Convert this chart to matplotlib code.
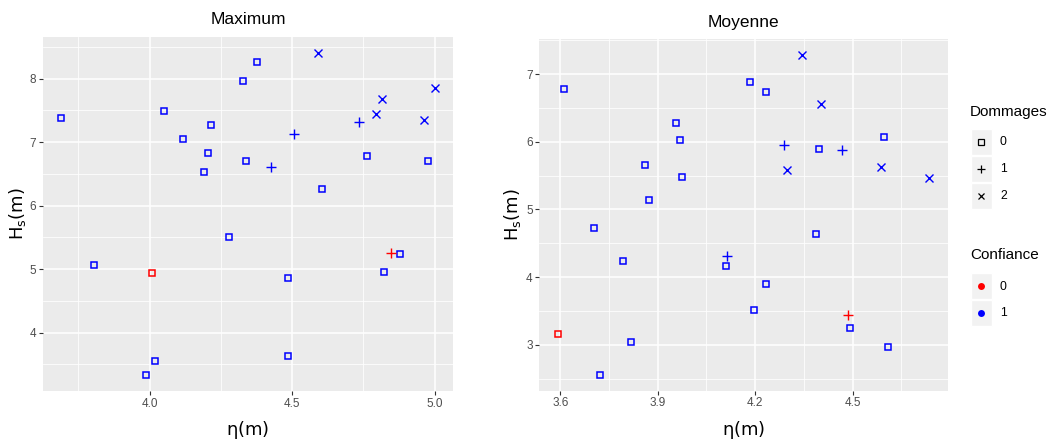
import matplotlib
matplotlib.use("Agg")
import matplotlib.pyplot as plt
from matplotlib.patches import Rectangle
import numpy as np

plt.rcParams['font.family'] = ['Liberation Sans', 'DejaVu Sans']
plt.rcParams['mathtext.fontset'] = 'dejavusans'

# ---- data: Maximum panel ----
max_eta = [3.690, 4.049, 4.118, 4.214, 4.204, 4.191, 4.327, 4.378, 4.337, 4.424,
           4.508, 4.590, 4.604, 4.734, 4.762, 4.794, 4.817, 4.961, 4.976, 5.000,
           4.277, 3.805, 4.007, 4.486, 4.824, 4.877, 4.847, 4.018, 3.988, 4.485]
max_hs = [7.385, 7.489, 7.043, 7.268, 6.826, 6.527, 7.953, 8.252, 6.700, 6.610,
          7.130, 8.400, 6.254, 7.320, 6.780, 7.437, 7.685, 7.347, 6.696, 7.858,
          5.502, 5.066, 4.934, 4.866, 4.956, 5.240, 5.250, 3.557, 3.336, 3.640]
max_dommages = [0, 0, 0, 0, 0, 0, 0, 0, 0, 1,
                1, 2, 0, 1, 0, 2, 2, 2, 0, 2,
                0, 0, 0, 0, 0, 0, 1, 0, 0, 0]
max_confiance = [1, 1, 1, 1, 1, 1, 1, 1, 1, 1,
                 1, 1, 1, 1, 1, 1, 1, 1, 1, 1,
                 1, 1, 0, 1, 1, 1, 0, 1, 1, 1]

# ---- data: Moyenne panel ----
moy_eta = [3.612, 4.185, 4.234, 4.345, 4.402, 3.955, 3.969, 4.290, 4.396, 4.469,
           4.596, 3.861, 4.299, 3.974, 4.587, 4.737, 3.874,
           3.704, 4.389, 4.112, 4.110, 3.792, 4.232, 4.197, 4.487, 4.493,
           3.592, 3.816, 4.609, 3.723]
moy_hs = [6.779, 6.882, 6.735, 7.284, 6.558, 6.278, 6.028, 5.959, 5.895, 5.885,
          6.066, 5.654, 5.580, 5.483, 5.635, 5.468, 5.144,
          4.722, 4.638, 4.314, 4.162, 4.240, 3.892, 3.514, 3.436, 3.253,
          3.160, 3.047, 2.973, 2.557]
moy_dommages = [0, 0, 0, 2, 2, 0, 0, 1, 0, 1,
                0, 0, 2, 0, 2, 2, 0,
                0, 0, 1, 0, 0, 0, 0, 1, 0,
                0, 0, 0, 0]
moy_confiance = [1, 1, 1, 1, 1, 1, 1, 1, 1, 1,
                 1, 1, 1, 1, 1, 1, 1,
                 1, 1, 1, 1, 1, 1, 1, 0, 1,
                 0, 1, 1, 1]

titles = ["Maximum", "Moyenne"]
max_xticks = [4.0, 4.5, 5.0]
max_yticks = [4, 5, 6, 7, 8]
moy_xticks = [3.6, 3.9, 4.2, 4.5]
moy_yticks = [3, 4, 5, 6, 7]
dommage_levels = ["0", "1", "2"]
confiance_levels = ["0", "1"]

shape_map = {0: 's', 1: '+', 2: 'x'}
size_map = {0: 5.0, 1: 7.0, 2: 5.5}
color_map = {0: '#FF0000', 1: '#0000FF'}

W, H = 1051, 445
fig = plt.figure(figsize=(W / 100, H / 100), dpi=100)

def px_axes(x0, y0, x1, y1):
    return fig.add_axes([x0 / W, 1 - y1 / H, (x1 - x0) / W, (y1 - y0) / H])

ax1 = px_axes(42.7, 37, 453.3, 391)
ax2 = px_axes(539.3, 39, 948, 390.7)

def expand(v):
    lo, hi = min(v), max(v)
    r = hi - lo
    return lo - 0.05 * r, hi + 0.05 * r

def panel(ax, eta, hs, dom, conf, title, xt, yt, ylab_x):
    ax.set_facecolor('#EBEBEB')
    for d, c, x, y in zip(dom, conf, eta, hs):
        m = shape_map[d]
        if m == 's':
            ax.plot(x, y, marker='s', ms=size_map[d], mfc='none', mec=color_map[c],
                    mew=1.1, ls='none', zorder=3)
        else:
            ax.plot(x, y, marker=m, ms=size_map[d], color=color_map[c],
                    mew=1.0, ls='none', zorder=3)
    ax.set_xticks(xt)
    ax.set_xticklabels([f"{v:.1f}" for v in xt])
    ax.set_yticks(yt)
    ax.set_yticklabels([str(v) for v in yt])
    xm = [(a + b) / 2 for a, b in zip(xt[:-1], xt[1:])]
    step = xt[1] - xt[0]
    xm = [xt[0] - step / 2] + xm + [xt[-1] + step / 2]
    ym = [(a + b) / 2 for a, b in zip(yt[:-1], yt[1:])]
    ym = [yt[0] - 0.5] + ym + [yt[-1] + 0.5]
    ax.set_xticks(xm, minor=True)
    ax.set_yticks(ym, minor=True)
    ax.set_xlim(*expand(eta))
    ax.set_ylim(*expand(hs))
    ax.grid(which='major', color='white', lw=1.1, zorder=0)
    ax.grid(which='minor', color='white', lw=0.55, zorder=0)
    ax.set_axisbelow(True)
    ax.tick_params(which='minor', length=0)
    ax.tick_params(which='major', length=2.7, width=0.8, color='#333333',
                   labelcolor='#4D4D4D', labelsize=8.5, pad=2)
    for s in ax.spines.values():
        s.set_visible(False)
    ax.set_title(title, fontsize=12.5, pad=9)
    ax.set_xlabel(r'$\mathrm{\eta}\left(\mathrm{m}\right)$', fontsize=13)
    ax.set_ylabel(r'$\mathrm{H_s}\left(\mathrm{m}\right)$', fontsize=13)
    ax.xaxis.set_label_coords(0.5, -0.08)
    ax.yaxis.set_label_coords(ylab_x, 0.5)

panel(ax1, max_eta, max_hs, max_dommages, max_confiance, titles[0],
      max_xticks, max_yticks, -0.036)
panel(ax2, moy_eta, moy_hs, moy_dommages, moy_confiance, titles[1],
      moy_xticks, moy_yticks, -0.04)

# ---- legends (drawn in pixel coordinates) ----
lg = fig.add_axes([0, 0, 1, 1])
lg.set_xlim(0, W)
lg.set_ylim(H, 0)
lg.axis('off')

lg.text(970, 112, "Dommages", fontsize=11, va='center', ha='left')
rows_d = [128.5, 155.5, 182.5]
for lev, y0 in zip(dommage_levels, rows_d):
    lg.add_patch(Rectangle((971, y0), 20.5, 26, facecolor='#F2F2F2', edgecolor='white', lw=1))
    d = int(lev)
    m = shape_map[d]
    if m == 's':
        lg.plot(981.2, y0 + 13, marker='s', ms=4.5, mfc='none', mec='black', mew=0.9)
    else:
        lg.plot(981.2, y0 + 13, marker=m, ms=size_map[d] * 0.9, color='black', mew=0.9)
    lg.text(1000, y0 + 13.5, lev, fontsize=8.8, va='center', ha='left')

lg.text(970, 255, "Confiance", fontsize=11, va='center', ha='left')
rows_c = [273, 300]
for lev, y0 in zip(confiance_levels, rows_c):
    lg.add_patch(Rectangle((971, y0), 20.5, 26, facecolor='#F2F2F2', edgecolor='white', lw=1))
    lg.plot(981.2, y0 + 13, marker='o', ms=5, color=color_map[int(lev)], mew=0)
    lg.text(1000, y0 + 13.5, lev, fontsize=8.8, va='center', ha='left')

fig.savefig("out.png", dpi=100)
